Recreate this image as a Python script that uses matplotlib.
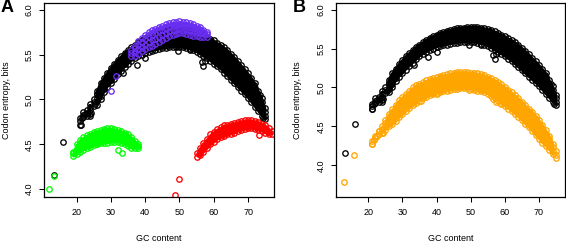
import matplotlib
matplotlib.use("Agg")
import matplotlib.pyplot as plt
from matplotlib.ticker import FormatStrFormatter

plt.rcParams['font.family'] = ['Liberation Sans', 'DejaVu Sans']

# genomes (black), shared by both panels: GC content -> codon entropy values
black_gc = list(range(21, 76))
black_bits = [
    [4.72, 4.76, 4.79], [4.80, 4.83, 4.86], [4.82, 4.85, 4.88],
    [4.84, 4.88, 4.92, 4.95], [4.93, 4.97, 5.00],
    [4.94, 4.98, 5.02, 5.06, 5.10], [5.00, 5.04, 5.09, 5.14, 5.18],
    [5.08, 5.12, 5.16, 5.20, 5.24], [5.14, 5.18, 5.22, 5.26, 5.30],
    [5.18, 5.22, 5.26, 5.31, 5.35], [5.23, 5.27, 5.31, 5.36, 5.40],
    [5.28, 5.32, 5.36, 5.40, 5.44], [5.32, 5.36, 5.40, 5.44, 5.48],
    [5.36, 5.40, 5.44, 5.48, 5.52], [5.40, 5.44, 5.48, 5.52, 5.55],
    [5.43, 5.47, 5.51, 5.55, 5.58], [5.46, 5.50, 5.54, 5.58, 5.61],
    [5.48, 5.52, 5.56, 5.60, 5.64], [5.50, 5.54, 5.58, 5.62, 5.66],
    [5.52, 5.56, 5.60, 5.64, 5.68], [5.53, 5.57, 5.62, 5.66, 5.70],
    [5.54, 5.58, 5.63, 5.67, 5.71], [5.55, 5.60, 5.64, 5.69, 5.73],
    [5.56, 5.61, 5.65, 5.70, 5.74], [5.57, 5.62, 5.66, 5.71, 5.75],
    [5.57, 5.62, 5.67, 5.72, 5.76], [5.58, 5.63, 5.68, 5.73, 5.77],
    [5.58, 5.63, 5.68, 5.73, 5.77], [5.58, 5.63, 5.68, 5.73, 5.78],
    [5.58, 5.63, 5.68, 5.73, 5.78], [5.58, 5.63, 5.68, 5.73, 5.78],
    [5.57, 5.62, 5.67, 5.73, 5.78], [5.56, 5.61, 5.66, 5.72, 5.77],
    [5.55, 5.60, 5.65, 5.71, 5.76], [5.53, 5.58, 5.64, 5.70, 5.75],
    [5.51, 5.56, 5.62, 5.68, 5.74], [5.48, 5.54, 5.60, 5.66, 5.72],
    [5.46, 5.52, 5.58, 5.64, 5.70],
    [5.43, 5.48, 5.53, 5.58, 5.63, 5.68], [5.40, 5.45, 5.50, 5.56, 5.61, 5.66],
    [5.37, 5.42, 5.47, 5.53, 5.58, 5.63], [5.34, 5.39, 5.45, 5.50, 5.56, 5.61],
    [5.30, 5.36, 5.41, 5.47, 5.52, 5.58], [5.26, 5.32, 5.38, 5.43, 5.49, 5.55],
    [5.22, 5.28, 5.34, 5.39, 5.45, 5.51], [5.18, 5.24, 5.30, 5.35, 5.41, 5.47],
    [5.14, 5.20, 5.26, 5.31, 5.37, 5.43], [5.10, 5.16, 5.21, 5.27, 5.32, 5.38],
    [5.06, 5.12, 5.17, 5.23, 5.28, 5.34], [5.02, 5.07, 5.13, 5.18, 5.24, 5.29],
    [4.97, 5.02, 5.08, 5.13, 5.19, 5.24], [4.92, 4.97, 5.02, 5.08, 5.13, 5.18],
    [4.87, 4.92, 4.98, 5.04, 5.10], [4.82, 4.87, 4.92, 4.97, 5.02],
    [4.78, 4.82, 4.86, 4.90],
]
black_out_gc = [13.3, 16.0, 21.2, 21.7, 22.5, 23.3, 24.0, 24.2, 25.5, 26.0,
                33.5, 37.5, 40.0, 49.5, 53.0, 56.5, 57.0, 57.5, 63.0, 69.7,
                71.8, 73.5, 74.5]
black_out_bits = [4.16, 4.53, 4.72, 4.79, 4.84, 4.85, 4.82, 4.85, 4.95, 5.06,
                  5.29, 5.39, 5.46, 5.54, 5.55, 5.42, 5.37, 5.43, 5.45, 5.24,
                  5.16, 5.05, 4.79]

# panel A: purple
purple_gc = list(range(36, 59))
purple_bits = [
    [5.48, 5.52, 5.55], [5.49, 5.53, 5.57, 5.60], [5.51, 5.56, 5.61, 5.65],
    [5.54, 5.59, 5.64, 5.69], [5.56, 5.61, 5.67, 5.72], [5.58, 5.64, 5.70, 5.75],
    [5.60, 5.66, 5.72, 5.77], [5.62, 5.68, 5.74, 5.79], [5.64, 5.70, 5.76, 5.81],
    [5.66, 5.72, 5.77, 5.82], [5.69, 5.74, 5.79, 5.84], [5.71, 5.76, 5.81, 5.85],
    [5.72, 5.77, 5.82, 5.86], [5.73, 5.78, 5.82, 5.86], [5.74, 5.79, 5.83, 5.87],
    [5.74, 5.78, 5.82, 5.86], [5.73, 5.78, 5.82, 5.86], [5.72, 5.77, 5.81, 5.85],
    [5.71, 5.76, 5.80, 5.84], [5.71, 5.75, 5.79, 5.82], [5.70, 5.74, 5.78, 5.81],
    [5.70, 5.74, 5.78], [5.70, 5.73, 5.75],
]
purple_out_gc = [30.1, 31.4]
purple_out_bits = [5.10, 5.26]

# panel A: green
green_gc = list(range(19, 39))
green_bits = [
    [4.37, 4.40, 4.42], [4.39, 4.44, 4.50], [4.42, 4.46, 4.51, 4.55],
    [4.44, 4.49, 4.54, 4.58], [4.46, 4.51, 4.56, 4.60], [4.47, 4.52, 4.57, 4.62],
    [4.49, 4.54, 4.59, 4.64], [4.50, 4.55, 4.60, 4.65], [4.51, 4.56, 4.61, 4.66],
    [4.52, 4.57, 4.62, 4.67], [4.52, 4.57, 4.63, 4.68], [4.53, 4.58, 4.63, 4.68],
    [4.53, 4.58, 4.63, 4.67], [4.53, 4.57, 4.62, 4.66], [4.52, 4.56, 4.61, 4.65],
    [4.50, 4.54, 4.59, 4.63], [4.48, 4.52, 4.57, 4.61], [4.46, 4.50, 4.54, 4.58],
    [4.46, 4.50, 4.54], [4.46, 4.48, 4.50],
]
green_out_gc = [12.1, 13.5, 25.7, 32.2, 33.2]
green_out_bits = [4.00, 4.15, 4.50, 4.44, 4.40]

# panel A: red
red_gc = list(range(55, 78))
red_bits = [
    [4.36, 4.40], [4.38, 4.42, 4.46], [4.42, 4.46, 4.51], [4.46, 4.51, 4.56],
    [4.50, 4.55, 4.61], [4.53, 4.58, 4.64], [4.56, 4.61, 4.67], [4.58, 4.64, 4.69],
    [4.59, 4.65, 4.71], [4.61, 4.66, 4.72], [4.62, 4.67, 4.73], [4.63, 4.68, 4.74],
    [4.65, 4.70, 4.75], [4.66, 4.71, 4.76], [4.67, 4.72, 4.77], [4.68, 4.72, 4.77],
    [4.68, 4.72, 4.77], [4.67, 4.71, 4.76], [4.66, 4.70, 4.75], [4.65, 4.69, 4.73],
    [4.63, 4.67, 4.71], [4.61, 4.64, 4.68], [4.62, 4.65],
]
red_out_gc = [48.8, 50.0, 55.6, 56.4, 57.3, 73.1]
red_out_bits = [3.94, 4.11, 4.39, 4.44, 4.49, 4.60]

# panel B: orange
orange_gc = list(range(21, 76))
orange_bits = [
    [4.28, 4.31], [4.35, 4.38], [4.40, 4.44], [4.42, 4.46, 4.50],
    [4.46, 4.50, 4.54, 4.58], [4.50, 4.54, 4.58, 4.62, 4.66],
    [4.53, 4.58, 4.63, 4.68, 4.72], [4.57, 4.62, 4.67, 4.72, 4.78],
    [4.62, 4.67, 4.73, 4.78, 4.84], [4.66, 4.71, 4.77, 4.82, 4.88],
    [4.70, 4.75, 4.81, 4.86, 4.92], [4.74, 4.79, 4.85, 4.90, 4.96],
    [4.77, 4.83, 4.88, 4.94, 5.00], [4.80, 4.86, 4.91, 4.97, 5.03],
    [4.83, 4.88, 4.94, 4.99, 5.05], [4.86, 4.91, 4.96, 5.02, 5.07],
    [4.88, 4.93, 4.98, 5.04, 5.09], [4.90, 4.95, 5.00, 5.06, 5.11],
    [4.91, 4.96, 5.01, 5.07, 5.12], [4.93, 4.98, 5.03, 5.08, 5.13],
    [4.94, 4.99, 5.04, 5.10, 5.15], [4.95, 5.00, 5.05, 5.11, 5.16],
    [4.96, 5.01, 5.06, 5.12, 5.17], [4.97, 5.02, 5.07, 5.13, 5.18],
    [4.98, 5.03, 5.08, 5.14, 5.19], [4.98, 5.03, 5.09, 5.14, 5.20],
    [4.99, 5.04, 5.09, 5.15, 5.20], [4.99, 5.04, 5.09, 5.15, 5.20],
    [4.99, 5.04, 5.09, 5.15, 5.20], [4.98, 5.03, 5.09, 5.14, 5.19],
    [4.97, 5.02, 5.08, 5.13, 5.19], [4.96, 5.01, 5.07, 5.12, 5.18],
    [4.95, 5.00, 5.06, 5.11, 5.17], [4.94, 4.99, 5.05, 5.10, 5.16],
    [4.92, 4.97, 5.03, 5.08, 5.14], [4.89, 4.95, 5.00, 5.06, 5.12],
    [4.86, 4.92, 4.98, 5.04, 5.10], [4.83, 4.89, 4.95, 5.01, 5.07],
    [4.79, 4.85, 4.91, 4.98, 5.04],
    [4.76, 4.81, 4.86, 4.91, 4.96, 5.01], [4.73, 4.78, 4.83, 4.87, 4.92, 4.97],
    [4.70, 4.75, 4.80, 4.84, 4.89, 4.94], [4.66, 4.71, 4.76, 4.80, 4.85, 4.90],
    [4.62, 4.67, 4.72, 4.76, 4.81, 4.86], [4.58, 4.63, 4.68, 4.72, 4.77, 4.82],
    [4.53, 4.58, 4.63, 4.67, 4.72, 4.77], [4.49, 4.54, 4.59, 4.63, 4.68, 4.73],
    [4.44, 4.49, 4.54, 4.59, 4.64, 4.69], [4.39, 4.44, 4.49, 4.54, 4.59, 4.64],
    [4.34, 4.39, 4.44, 4.48, 4.53, 4.58], [4.29, 4.34, 4.39, 4.43, 4.48, 4.52],
    [4.25, 4.30, 4.35, 4.40, 4.45], [4.20, 4.25, 4.29, 4.34, 4.38],
    [4.14, 4.18, 4.23, 4.28], [4.09, 4.13, 4.18],
]
orange_out_gc = [13.0, 15.9, 21.0, 21.8, 22.5, 23.2, 24.0, 24.3, 25.5,
                 35.5, 40.0, 49.5, 56.5, 57.5, 58.5]
orange_out_bits = [3.79, 4.13, 4.28, 4.33, 4.38, 4.44, 4.47, 4.41, 4.52,
                   4.83, 4.92, 4.97, 4.85, 4.82, 4.80]

xticks = [20, 30, 40, 50, 60, 70]
yticks = [4.0, 4.5, 5.0, 5.5, 6.0]


def flat(gc, bits):
    xs = [g for g, ys in zip(gc, bits) for _ in ys]
    ys = [y for ys in bits for y in ys]
    return xs, ys


def pts(ax, x, y, color):
    ax.plot(x, y, 'o', ms=3.9, mfc='none', mec=color, mew=0.95, ls='none')


def band(ax, gc, bits, outx, outy, color, min_n):
    # dense core of the cloud: overlapping circles fill it solid
    lo = [min(ys) for ys in bits]
    hi = [max(ys) for ys in bits]
    dense = [len(ys) >= min_n for ys in bits]
    ax.fill_between(gc, lo, hi, where=dense, facecolor=color,
                    edgecolor=color, lw=1.6)
    x, y = flat(gc, bits)
    pts(ax, x, y, color)
    pts(ax, outx, outy, color)


def style(ax, ylim):
    ax.set_xlim(10.6, 77.6)
    ax.set_ylim(*ylim)
    ax.set_xticks(xticks)
    ax.set_yticks(yticks)
    ax.yaxis.set_major_formatter(FormatStrFormatter('%.1f'))
    ax.tick_params(direction='out', length=3.3, width=0.75, labelsize=6.5,
                   pad=4.5)
    for lab in ax.get_yticklabels():
        lab.set_rotation(90)
        lab.set_va('center')
    for sp in ax.spines.values():
        sp.set_linewidth(0.9)
    ax.set_xlabel('GC content', fontsize=6.5, labelpad=12)
    ax.set_ylabel('Codon entropy, bits', fontsize=6.5, labelpad=10)


fig = plt.figure(figsize=(5.66, 2.42), dpi=100)
axA = fig.add_axes([0.0783, 0.185, 0.406, 0.804])
axB = fig.add_axes([0.594, 0.185, 0.404, 0.804])

# panel A
band(axA, black_gc, black_bits, black_out_gc, black_out_bits, 'black', 4)
band(axA, purple_gc, purple_bits, purple_out_gc, purple_out_bits,
     '#6a2ef2', 3)
band(axA, green_gc, green_bits, green_out_gc, green_out_bits, '#00ff00', 3)
band(axA, red_gc, red_bits, red_out_gc, red_out_bits, '#ff0000', 3)
style(axA, (3.91, 6.08))

# panel B
band(axB, black_gc, black_bits, black_out_gc, black_out_bits, 'black', 4)
band(axB, orange_gc, orange_bits, orange_out_gc, orange_out_bits,
     '#ffa500', 4)
style(axB, (3.59, 6.09))

fig.text(7 / 566, 1 - 8 / 242, 'A', fontsize=13, fontweight='bold',
         ha='center', va='center')
fig.text(299 / 566, 1 - 8 / 242, 'B', fontsize=13, fontweight='bold',
         ha='center', va='center')

fig.savefig('out.png', dpi=100)
